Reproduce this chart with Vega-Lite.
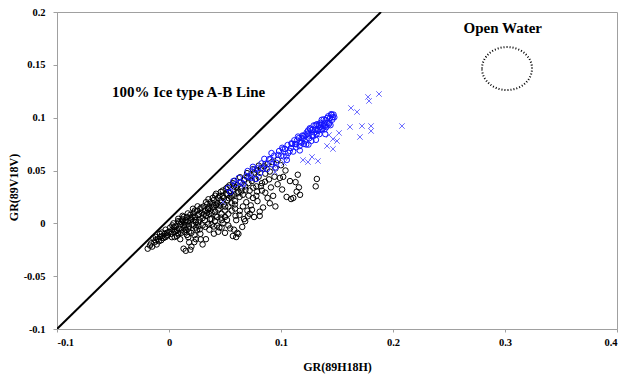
{
  "$schema": "https://vega.github.io/schema/vega-lite/v6.json",
  "width": 560,
  "height": 317,
  "autosize": {"type": "none"},
  "padding": {"left": 57, "top": 12, "right": 3, "bottom": 45},
  "background": "white",
  "config": {
    "view": {"stroke": "#a0a0a0", "strokeWidth": 1},
    "axis": {
      "grid": false,
      "domainColor": "#a0a0a0",
      "tickColor": "#a0a0a0",
      "labelFont": "Liberation Serif",
      "labelFontWeight": "bold",
      "labelFontSize": 10.5,
      "labelColor": "#000000",
      "titleFont": "Liberation Serif",
      "titleFontWeight": "bold",
      "titleFontSize": 12,
      "titleColor": "#000000"
    }
  },
  "datasets": {
    "line": [{"x": -0.1, "y": -0.1}, {"x": 0.1893, "y": 0.2}],
    "ann": [
      {"x": 0.0175, "y": 0.1245, "label": "100% Ice type A-B Line"},
      {"x": 0.298, "y": 0.1845, "label": "Open Water"}
    ],
    "ell": [{"x": 0.3018, "y": 0.1465}],
    "pts": [
      {"x": -0.019, "y": -0.024, "t": "a"}, {"x": -0.017, "y": -0.021, "t": "a"}, {"x": -0.016, "y": -0.019, "t": "a"}, {"x": -0.015, "y": -0.022, "t": "a"}, {"x": -0.013, "y": -0.018, "t": "a"}, {"x": -0.012, "y": -0.016, "t": "a"}, {"x": -0.011, "y": -0.020, "t": "a"}, {"x": -0.010, "y": -0.015, "t": "a"}, {"x": -0.009, "y": -0.017, "t": "a"}, {"x": -0.008, "y": -0.013, "t": "a"}, {"x": -0.007, "y": -0.016, "t": "a"}, {"x": -0.006, "y": -0.012, "t": "a"}, {"x": -0.005, "y": -0.014, "t": "a"}, {"x": -0.004, "y": -0.010, "t": "a"}, {"x": -0.003, "y": -0.013, "t": "a"}, {"x": -0.002, "y": -0.009, "t": "a"}, {"x": -0.001, "y": -0.011, "t": "a"}, {"x": 0.000, "y": -0.008, "t": "a"}, {"x": -0.014, "y": -0.014, "t": "a"}, {"x": -0.008, "y": -0.010, "t": "a"}, {"x": -0.003, "y": -0.006, "t": "a"},
      {"x": 0.001, "y": -0.004, "t": "a"}, {"x": 0.002, "y": -0.010, "t": "a"}, {"x": 0.003, "y": -0.006, "t": "a"}, {"x": 0.004, "y": 0.000, "t": "a"}, {"x": 0.005, "y": -0.008, "t": "a"}, {"x": 0.006, "y": -0.003, "t": "a"}, {"x": 0.007, "y": -0.012, "t": "a"}, {"x": 0.008, "y": 0.002, "t": "a"}, {"x": 0.009, "y": -0.005, "t": "a"}, {"x": 0.010, "y": -0.001, "t": "a"}, {"x": 0.011, "y": -0.009, "t": "a"}, {"x": 0.012, "y": 0.004, "t": "a"}, {"x": 0.013, "y": -0.002, "t": "a"}, {"x": 0.014, "y": 0.001, "t": "a"}, {"x": 0.015, "y": -0.006, "t": "a"}, {"x": 0.016, "y": 0.006, "t": "a"}, {"x": 0.017, "y": 0.002, "t": "a"}, {"x": 0.018, "y": -0.003, "t": "a"}, {"x": 0.019, "y": 0.008, "t": "a"}, {"x": 0.020, "y": 0.004, "t": "a"}, {"x": 0.021, "y": -0.001, "t": "a"}, {"x": 0.022, "y": 0.010, "t": "a"}, {"x": 0.023, "y": 0.006, "t": "a"}, {"x": 0.024, "y": 0.001, "t": "a"}, {"x": 0.025, "y": 0.012, "t": "a"}, {"x": 0.026, "y": 0.008, "t": "a"}, {"x": 0.027, "y": 0.003, "t": "a"}, {"x": 0.028, "y": 0.014, "t": "a"}, {"x": 0.029, "y": 0.010, "t": "a"}, {"x": 0.030, "y": 0.005, "t": "a"},
      {"x": 0.003, "y": -0.002, "t": "a"}, {"x": 0.006, "y": -0.007, "t": "a"}, {"x": 0.009, "y": 0.001, "t": "a"}, {"x": 0.012, "y": -0.006, "t": "a"}, {"x": 0.015, "y": 0.003, "t": "a"}, {"x": 0.018, "y": -0.008, "t": "a"}, {"x": 0.021, "y": 0.006, "t": "a"}, {"x": 0.024, "y": -0.004, "t": "a"}, {"x": 0.027, "y": 0.009, "t": "a"}, {"x": 0.030, "y": -0.002, "t": "a"}, {"x": 0.005, "y": -0.013, "t": "a"}, {"x": 0.010, "y": -0.015, "t": "a"}, {"x": 0.016, "y": -0.011, "t": "a"}, {"x": 0.020, "y": -0.009, "t": "a"}, {"x": 0.025, "y": -0.006, "t": "a"}, {"x": 0.028, "y": -0.010, "t": "a"}, {"x": 0.013, "y": 0.006, "t": "a"}, {"x": 0.019, "y": 0.003, "t": "a"}, {"x": 0.023, "y": 0.012, "t": "a"}, {"x": 0.017, "y": -0.005, "t": "a"}, {"x": 0.008, "y": -0.009, "t": "a"}, {"x": 0.011, "y": 0.001, "t": "a"}, {"x": 0.014, "y": -0.004, "t": "a"}, {"x": 0.022, "y": -0.002, "t": "a"}, {"x": 0.026, "y": 0.001, "t": "a"}, {"x": 0.029, "y": 0.015, "t": "a"},
      {"x": 0.018, "y": -0.018, "t": "a"}, {"x": 0.020, "y": -0.022, "t": "a"}, {"x": 0.019, "y": -0.025, "t": "a"}, {"x": 0.024, "y": -0.015, "t": "a"}, {"x": 0.033, "y": -0.015, "t": "a"}, {"x": 0.030, "y": -0.020, "t": "a"},
      {"x": 0.031, "y": 0.016, "t": "a"}, {"x": 0.032, "y": 0.012, "t": "a"}, {"x": 0.033, "y": 0.007, "t": "a"}, {"x": 0.034, "y": 0.018, "t": "a"}, {"x": 0.035, "y": 0.013, "t": "a"}, {"x": 0.036, "y": 0.009, "t": "a"}, {"x": 0.037, "y": 0.020, "t": "a"}, {"x": 0.038, "y": 0.004, "t": "a"}, {"x": 0.039, "y": 0.015, "t": "a"}, {"x": 0.040, "y": 0.022, "t": "a"}, {"x": 0.041, "y": 0.011, "t": "a"}, {"x": 0.042, "y": 0.017, "t": "a"}, {"x": 0.043, "y": 0.006, "t": "a"}, {"x": 0.044, "y": 0.024, "t": "a"}, {"x": 0.045, "y": 0.014, "t": "a"}, {"x": 0.046, "y": 0.020, "t": "a"}, {"x": 0.047, "y": 0.009, "t": "a"}, {"x": 0.048, "y": 0.026, "t": "a"}, {"x": 0.049, "y": 0.018, "t": "a"}, {"x": 0.050, "y": 0.012, "t": "a"}, {"x": 0.051, "y": 0.028, "t": "a"}, {"x": 0.052, "y": 0.022, "t": "a"}, {"x": 0.053, "y": 0.016, "t": "a"}, {"x": 0.054, "y": 0.030, "t": "a"}, {"x": 0.055, "y": 0.025, "t": "a"}, {"x": 0.056, "y": 0.019, "t": "a"}, {"x": 0.057, "y": 0.032, "t": "a"}, {"x": 0.058, "y": 0.027, "t": "a"}, {"x": 0.059, "y": 0.021, "t": "a"}, {"x": 0.060, "y": 0.034, "t": "a"},
      {"x": 0.032, "y": 0.003, "t": "a"}, {"x": 0.035, "y": -0.001, "t": "a"}, {"x": 0.038, "y": 0.010, "t": "a"}, {"x": 0.041, "y": 0.002, "t": "a"}, {"x": 0.044, "y": 0.013, "t": "a"}, {"x": 0.047, "y": 0.003, "t": "a"}, {"x": 0.050, "y": 0.006, "t": "a"}, {"x": 0.053, "y": 0.009, "t": "a"}, {"x": 0.056, "y": 0.012, "t": "a"}, {"x": 0.059, "y": 0.014, "t": "a"}, {"x": 0.033, "y": 0.020, "t": "a"}, {"x": 0.036, "y": 0.015, "t": "a"}, {"x": 0.039, "y": 0.024, "t": "a"}, {"x": 0.042, "y": 0.028, "t": "a"}, {"x": 0.045, "y": 0.026, "t": "a"}, {"x": 0.048, "y": 0.031, "t": "a"}, {"x": 0.051, "y": 0.033, "t": "a"}, {"x": 0.054, "y": 0.036, "t": "a"}, {"x": 0.057, "y": 0.038, "t": "a"}, {"x": 0.034, "y": 0.010, "t": "a"}, {"x": 0.040, "y": 0.017, "t": "a"}, {"x": 0.046, "y": 0.022, "t": "a"}, {"x": 0.052, "y": 0.027, "t": "a"}, {"x": 0.058, "y": 0.035, "t": "a"}, {"x": 0.037, "y": 0.012, "t": "a"}, {"x": 0.043, "y": 0.019, "t": "a"}, {"x": 0.049, "y": 0.024, "t": "a"}, {"x": 0.055, "y": 0.029, "t": "a"},
      {"x": 0.036, "y": -0.006, "t": "a"}, {"x": 0.040, "y": -0.003, "t": "a"}, {"x": 0.045, "y": -0.004, "t": "a"}, {"x": 0.048, "y": 0.000, "t": "a"}, {"x": 0.053, "y": -0.002, "t": "a"}, {"x": 0.060, "y": 0.003, "t": "a"}, {"x": 0.058, "y": -0.006, "t": "a"}, {"x": 0.062, "y": -0.010, "t": "a"}, {"x": 0.057, "y": -0.012, "t": "a"}, {"x": 0.050, "y": -0.009, "t": "a"}, {"x": 0.067, "y": 0.004, "t": "a"}, {"x": 0.063, "y": 0.008, "t": "a"}, {"x": 0.044, "y": -0.008, "t": "a"},
      {"x": 0.061, "y": 0.036, "t": "a"}, {"x": 0.062, "y": 0.030, "t": "a"}, {"x": 0.063, "y": 0.025, "t": "a"}, {"x": 0.064, "y": 0.039, "t": "a"}, {"x": 0.065, "y": 0.033, "t": "a"}, {"x": 0.066, "y": 0.027, "t": "a"}, {"x": 0.067, "y": 0.041, "t": "a"}, {"x": 0.068, "y": 0.035, "t": "a"}, {"x": 0.069, "y": 0.020, "t": "a"}, {"x": 0.070, "y": 0.044, "t": "a"}, {"x": 0.071, "y": 0.038, "t": "a"}, {"x": 0.072, "y": 0.031, "t": "a"}, {"x": 0.073, "y": 0.046, "t": "a"}, {"x": 0.074, "y": 0.040, "t": "a"}, {"x": 0.075, "y": 0.024, "t": "a"}, {"x": 0.076, "y": 0.048, "t": "a"}, {"x": 0.077, "y": 0.042, "t": "a"}, {"x": 0.078, "y": 0.035, "t": "a"}, {"x": 0.079, "y": 0.050, "t": "a"}, {"x": 0.080, "y": 0.044, "t": "a"}, {"x": 0.082, "y": 0.052, "t": "a"}, {"x": 0.083, "y": 0.038, "t": "a"}, {"x": 0.085, "y": 0.054, "t": "a"}, {"x": 0.086, "y": 0.047, "t": "a"}, {"x": 0.088, "y": 0.056, "t": "a"}, {"x": 0.090, "y": 0.049, "t": "a"}, {"x": 0.092, "y": 0.058, "t": "a"}, {"x": 0.095, "y": 0.052, "t": "a"}, {"x": 0.097, "y": 0.060, "t": "a"}, {"x": 0.100, "y": 0.055, "t": "a"},
      {"x": 0.060, "y": -0.013, "t": "a"}, {"x": 0.061, "y": -0.009, "t": "a"}, {"x": 0.047, "y": -0.004, "t": "a"}, {"x": 0.081, "y": 0.007, "t": "a"}, {"x": 0.081, "y": 0.011, "t": "a"}, {"x": 0.095, "y": 0.016, "t": "a"}, {"x": 0.090, "y": 0.019, "t": "a"}, {"x": 0.088, "y": 0.024, "t": "a"}, {"x": 0.093, "y": 0.026, "t": "a"}, {"x": 0.101, "y": 0.032, "t": "a"}, {"x": 0.105, "y": 0.025, "t": "a"}, {"x": 0.109, "y": 0.023, "t": "a"}, {"x": 0.111, "y": 0.024, "t": "a"}, {"x": 0.114, "y": 0.030, "t": "a"}, {"x": 0.116, "y": 0.034, "t": "a"}, {"x": 0.117, "y": 0.027, "t": "a"}, {"x": 0.131, "y": 0.035, "t": "a"}, {"x": 0.132, "y": 0.042, "t": "a"}, {"x": 0.115, "y": 0.046, "t": "a"}, {"x": 0.104, "y": 0.050, "t": "a"}, {"x": 0.113, "y": 0.039, "t": "a"}, {"x": 0.013, "y": -0.024, "t": "a"}, {"x": 0.015, "y": -0.026, "t": "a"}, {"x": 0.070, "y": 0.012, "t": "a"}, {"x": 0.073, "y": 0.017, "t": "a"}, {"x": 0.076, "y": 0.006, "t": "a"}, {"x": 0.079, "y": 0.021, "t": "a"}, {"x": 0.084, "y": 0.015, "t": "a"}, {"x": 0.086, "y": 0.029, "t": "a"}, {"x": 0.097, "y": 0.037, "t": "a"}, {"x": 0.102, "y": 0.044, "t": "a"}, {"x": 0.066, "y": 0.016, "t": "a"}, {"x": 0.072, "y": 0.009, "t": "a"}, {"x": 0.068, "y": 0.002, "t": "a"}, {"x": 0.078, "y": 0.026, "t": "a"}, {"x": 0.083, "y": 0.031, "t": "a"}, {"x": 0.091, "y": 0.034, "t": "a"}, {"x": 0.108, "y": 0.040, "t": "a"}, {"x": 0.099, "y": 0.043, "t": "a"},
      {"x": 0.0043, "y": -0.0035, "t": "a"}, {"x": 0.0117, "y": 0.0028, "t": "a"}, {"x": 0.0071, "y": -0.0062, "t": "a"}, {"x": 0.0156, "y": -0.0018, "t": "a"}, {"x": 0.0192, "y": 0.0052, "t": "a"}, {"x": 0.0238, "y": 0.0031, "t": "a"}, {"x": 0.0264, "y": -0.0027, "t": "a"}, {"x": 0.0311, "y": 0.0083, "t": "a"}, {"x": 0.0347, "y": 0.0142, "t": "a"}, {"x": 0.0366, "y": 0.0041, "t": "a"}, {"x": 0.0395, "y": 0.0188, "t": "a"}, {"x": 0.0418, "y": 0.0074, "t": "a"}, {"x": 0.0452, "y": 0.0167, "t": "a"}, {"x": 0.0476, "y": 0.0205, "t": "a"}, {"x": 0.0502, "y": 0.0158, "t": "a"}, {"x": 0.0533, "y": 0.0238, "t": "a"}, {"x": 0.0561, "y": 0.0262, "t": "a"}, {"x": 0.0588, "y": 0.0178, "t": "a"}, {"x": 0.0612, "y": 0.0284, "t": "a"}, {"x": 0.0645, "y": 0.0302, "t": "a"}, {"x": 0.0683, "y": 0.0318, "t": "a"}, {"x": 0.0711, "y": 0.0262, "t": "a"}, {"x": 0.0752, "y": 0.0337, "t": "a"}, {"x": 0.0787, "y": 0.0301, "t": "a"}, {"x": 0.0821, "y": 0.0352, "t": "a"}, {"x": 0.0857, "y": 0.0394, "t": "a"}, {"x": 0.0893, "y": 0.0416, "t": "a"}, {"x": 0.0942, "y": 0.0441, "t": "a"}, {"x": -0.0118, "y": -0.0128, "t": "a"}, {"x": -0.0063, "y": -0.0087, "t": "a"}, {"x": -0.0021, "y": -0.0118, "t": "a"}, {"x": 0.0026, "y": -0.0131, "t": "a"}, {"x": 0.0083, "y": -0.0105, "t": "a"}, {"x": 0.0139, "y": -0.0082, "t": "a"}, {"x": 0.0172, "y": -0.0131, "t": "a"}, {"x": 0.0227, "y": -0.0112, "t": "a"}, {"x": 0.0274, "y": -0.0058, "t": "a"}, {"x": 0.0324, "y": -0.0034, "t": "a"}, {"x": 0.0381, "y": -0.0012, "t": "a"}, {"x": 0.0429, "y": -0.0021, "t": "a"}, {"x": 0.0467, "y": 0.0054, "t": "a"}, {"x": 0.0518, "y": 0.0032, "t": "a"}, {"x": 0.0546, "y": -0.0048, "t": "a"}, {"x": 0.0594, "y": 0.0071, "t": "a"}, {"x": 0.0632, "y": 0.0118, "t": "a"}, {"x": 0.0654, "y": -0.0034, "t": "a"}, {"x": 0.0703, "y": 0.0067, "t": "a"}, {"x": 0.0741, "y": 0.0128, "t": "a"}, {"x": 0.0226, "y": -0.0178, "t": "a"}, {"x": 0.0283, "y": -0.0152, "t": "a"}, {"x": 0.0401, "y": -0.0098, "t": "a"}, {"x": 0.0255, "y": 0.0161, "t": "a"}, {"x": 0.0214, "y": 0.0138, "t": "a"}, {"x": 0.0168, "y": 0.0094, "t": "a"}, {"x": 0.0121, "y": 0.0071, "t": "a"}, {"x": 0.0082, "y": 0.0043, "t": "a"}, {"x": 0.0352, "y": 0.0228, "t": "a"}, {"x": 0.0412, "y": 0.0262, "t": "a"}, {"x": 0.0463, "y": 0.0298, "t": "a"}, {"x": 0.0524, "y": 0.0342, "t": "a"}, {"x": 0.0583, "y": 0.0402, "t": "a"}, {"x": 0.0635, "y": 0.0436, "t": "a"}, {"x": 0.0697, "y": 0.0475, "t": "a"}, {"x": 0.0748, "y": 0.0512, "t": "a"}, {"x": 0.0801, "y": 0.0546, "t": "a"},
      {"x": 0.1412, "y": 0.0996, "t": "b"}, {"x": 0.1287, "y": 0.0822, "t": "b"}, {"x": 0.1356, "y": 0.0934, "t": "b"}, {"x": 0.1174, "y": 0.0768, "t": "b"}, {"x": 0.1448, "y": 0.1033, "t": "b"}, {"x": 0.1225, "y": 0.0746, "t": "b"}, {"x": 0.1098, "y": 0.0751, "t": "b"}, {"x": 0.1331, "y": 0.0875, "t": "b"}, {"x": 0.1476, "y": 0.1004, "t": "b"}, {"x": 0.1049, "y": 0.0634, "t": "b"}, {"x": 0.1263, "y": 0.0894, "t": "b"}, {"x": 0.1389, "y": 0.0889, "t": "b"}, {"x": 0.1152, "y": 0.0821, "t": "b"}, {"x": 0.0974, "y": 0.0648, "t": "b"}, {"x": 0.1305, "y": 0.0886, "t": "b"}, {"x": 0.1427, "y": 0.0937, "t": "b"}, {"x": 0.1201, "y": 0.0828, "t": "b"}, {"x": 0.1078, "y": 0.0686, "t": "b"}, {"x": 0.1364, "y": 0.0980, "t": "b"}, {"x": 0.1247, "y": 0.0832, "t": "b"}, {"x": 0.0921, "y": 0.0558, "t": "b"}, {"x": 0.1343, "y": 0.0844, "t": "b"}, {"x": 0.1458, "y": 0.0981, "t": "b"}, {"x": 0.1119, "y": 0.0786, "t": "b"}, {"x": 0.1283, "y": 0.0889, "t": "b"}, {"x": 0.1017, "y": 0.0700, "t": "b"}, {"x": 0.1399, "y": 0.0976, "t": "b"}, {"x": 0.1166, "y": 0.0732, "t": "b"}, {"x": 0.0893, "y": 0.0607, "t": "b"}, {"x": 0.1321, "y": 0.0938, "t": "b"}, {"x": 0.1237, "y": 0.0845, "t": "b"}, {"x": 0.1438, "y": 0.0996, "t": "b"}, {"x": 0.1059, "y": 0.0741, "t": "b"}, {"x": 0.1184, "y": 0.0805, "t": "b"}, {"x": 0.1376, "y": 0.0919, "t": "b"}, {"x": 0.0842, "y": 0.0519, "t": "b"}, {"x": 0.1297, "y": 0.0860, "t": "b"}, {"x": 0.1469, "y": 0.1029, "t": "b"}, {"x": 0.1134, "y": 0.0748, "t": "b"}, {"x": 0.1213, "y": 0.0777, "t": "b"}, {"x": 0.0956, "y": 0.0574, "t": "b"}, {"x": 0.1352, "y": 0.0951, "t": "b"}, {"x": 0.1271, "y": 0.0780, "t": "b"}, {"x": 0.1405, "y": 0.0911, "t": "b"}, {"x": 0.1088, "y": 0.0713, "t": "b"}, {"x": 0.0791, "y": 0.0520, "t": "b"}, {"x": 0.1257, "y": 0.0900, "t": "b"}, {"x": 0.1318, "y": 0.0846, "t": "b"}, {"x": 0.1192, "y": 0.0831, "t": "b"}, {"x": 0.1421, "y": 0.1013, "t": "b"}, {"x": 0.1002, "y": 0.0639, "t": "b"}, {"x": 0.0737, "y": 0.0430, "t": "b"}, {"x": 0.1143, "y": 0.0784, "t": "b"}, {"x": 0.1385, "y": 0.0946, "t": "b"}, {"x": 0.1229, "y": 0.0859, "t": "b"}, {"x": 0.1036, "y": 0.0704, "t": "b"}, {"x": 0.1338, "y": 0.0931, "t": "b"}, {"x": 0.0874, "y": 0.0513, "t": "b"}, {"x": 0.1109, "y": 0.0679, "t": "b"}, {"x": 0.1463, "y": 0.1004, "t": "b"}, {"x": 0.1279, "y": 0.0836, "t": "b"}, {"x": 0.0689, "y": 0.0444, "t": "b"}, {"x": 0.1160, "y": 0.0807, "t": "b"}, {"x": 0.1395, "y": 0.0923, "t": "b"}, {"x": 0.0983, "y": 0.0684, "t": "b"}, {"x": 0.1251, "y": 0.0805, "t": "b"}, {"x": 0.1309, "y": 0.0929, "t": "b"}, {"x": 0.0813, "y": 0.0477, "t": "b"}, {"x": 0.1205, "y": 0.0751, "t": "b"}, {"x": 0.1442, "y": 0.0929, "t": "b"}, {"x": 0.1065, "y": 0.0666, "t": "b"}, {"x": 0.1369, "y": 0.0894, "t": "b"}, {"x": 0.0641, "y": 0.0388, "t": "b"}, {"x": 0.1127, "y": 0.0752, "t": "b"}, {"x": 0.1292, "y": 0.0926, "t": "b"}, {"x": 0.0905, "y": 0.0606, "t": "b"}, {"x": 0.1348, "y": 0.0908, "t": "b"}, {"x": 0.1182, "y": 0.0764, "t": "b"}, {"x": 0.0765, "y": 0.0511, "t": "b"}, {"x": 0.1415, "y": 0.0948, "t": "b"}, {"x": 0.1023, "y": 0.0634, "t": "b"}, {"x": 0.1241, "y": 0.0878, "t": "b"}, {"x": 0.0592, "y": 0.0371, "t": "b"}, {"x": 0.1326, "y": 0.0882, "t": "b"}, {"x": 0.1093, "y": 0.0757, "t": "b"}, {"x": 0.0939, "y": 0.0641, "t": "b"}, {"x": 0.1382, "y": 0.0984, "t": "b"}, {"x": 0.1218, "y": 0.0831, "t": "b"}, {"x": 0.0718, "y": 0.0436, "t": "b"}, {"x": 0.1453, "y": 0.1027, "t": "b"}, {"x": 0.1137, "y": 0.0720, "t": "b"}, {"x": 0.0861, "y": 0.0563, "t": "b"}, {"x": 0.1273, "y": 0.0882, "t": "b"}, {"x": 0.0547, "y": 0.0297, "t": "b"}, {"x": 0.1359, "y": 0.0886, "t": "b"}, {"x": 0.1011, "y": 0.0715, "t": "b"}, {"x": 0.0663, "y": 0.0374, "t": "b"}, {"x": 0.1196, "y": 0.0804, "t": "b"}, {"x": 0.1433, "y": 0.0952, "t": "b"}, {"x": 0.0826, "y": 0.0567, "t": "b"},
      {"x": 0.1312, "y": 0.0790, "t": "b"}, {"x": 0.1395, "y": 0.0845, "t": "b"}, {"x": 0.1168, "y": 0.0690, "t": "b"}, {"x": 0.1245, "y": 0.0745, "t": "b"}, {"x": 0.1052, "y": 0.0600, "t": "b"}, {"x": 0.0952, "y": 0.0530, "t": "b"}, {"x": 0.0778, "y": 0.0420, "t": "b"}, {"x": 0.0528, "y": 0.0335, "t": "b"}, {"x": 0.0575, "y": 0.0400, "t": "b"}, {"x": 0.0623, "y": 0.0430, "t": "b"}, {"x": 0.0702, "y": 0.0495, "t": "b"}, {"x": 0.0749, "y": 0.0535, "t": "b"}, {"x": 0.0851, "y": 0.0610, "t": "b"}, {"x": 0.0915, "y": 0.0665, "t": "b"},
      {"x": 0.1875, "y": 0.1224, "t": "c"}, {"x": 0.1777, "y": 0.1196, "t": "c"}, {"x": 0.1786, "y": 0.1158, "t": "c"}, {"x": 0.1625, "y": 0.1091, "t": "c"}, {"x": 0.1679, "y": 0.1054, "t": "c"}, {"x": 0.1616, "y": 0.0912, "t": "c"}, {"x": 0.1723, "y": 0.0921, "t": "c"}, {"x": 0.1804, "y": 0.0921, "t": "c"}, {"x": 0.1804, "y": 0.0874, "t": "c"}, {"x": 0.2080, "y": 0.0921, "t": "c"}, {"x": 0.1705, "y": 0.0817, "t": "c"}, {"x": 0.1518, "y": 0.0855, "t": "c"}, {"x": 0.1429, "y": 0.0836, "t": "c"}, {"x": 0.1464, "y": 0.0798, "t": "c"}, {"x": 0.1500, "y": 0.0779, "t": "c"}, {"x": 0.1411, "y": 0.0732, "t": "c"}, {"x": 0.1464, "y": 0.0704, "t": "c"}, {"x": 0.1277, "y": 0.0628, "t": "c"}, {"x": 0.1196, "y": 0.0599, "t": "c"}, {"x": 0.1241, "y": 0.0580, "t": "c"}, {"x": 0.1330, "y": 0.0590, "t": "c"}, {"x": 0.0902, "y": 0.0580, "t": "c"}, {"x": 0.0973, "y": 0.0552, "t": "c"}, {"x": 0.0946, "y": 0.0486, "t": "c"}, {"x": 0.0741, "y": 0.0457, "t": "c"}, {"x": 0.0670, "y": 0.0353, "t": "c"}, {"x": 0.0563, "y": 0.0316, "t": "c"}, {"x": 0.0482, "y": 0.0202, "t": "c"}, {"x": 0.1027, "y": 0.0571, "t": "c"}
    ]
  },
  "layer": [
    {
      "data": {"name": "pts"},
      "mark": {"type": "point", "filled": false, "strokeWidth": 1, "size": 30, "opacity": 1},
      "encoding": {
        "x": {
          "field": "x", "type": "quantitative",
          "scale": {"domain": [-0.1, 0.4], "nice": false, "zero": false},
          "axis": {"title": "GR(89H18H)", "values": [-0.1, 0, 0.1, 0.2, 0.3, 0.4], "labelExpr": "datum.value", "tickSize": 3, "labelPadding": 5, "titleY": 37, "titleBaseline": "middle"}
        },
        "y": {
          "field": "y", "type": "quantitative",
          "scale": {"domain": [-0.1, 0.2], "nice": false, "zero": false},
          "axis": {"title": "GR(89V18V)", "values": [-0.1, -0.05, 0, 0.05, 0.1, 0.15, 0.2], "labelExpr": "datum.value", "tickSize": 4, "labelPadding": 8, "titleX": -44, "titleY": 175, "titleBaseline": "middle"}
        },
        "color": {"field": "t", "type": "nominal", "legend": null, "scale": {"domain": ["a", "b", "c"], "range": ["#000000", "#1414ff", "#6a6aff"]}},
        "shape": {"field": "t", "type": "nominal", "legend": null, "scale": {"domain": ["a", "b", "c"], "range": ["circle", "circle", "M-1,-1L1,1M-1,1L1,-1"]}}
      }
    },
    {
      "data": {"name": "line"},
      "mark": {"type": "line", "color": "#000000", "strokeWidth": 2, "clip": true},
      "encoding": {
        "x": {"field": "x", "type": "quantitative"},
        "y": {"field": "y", "type": "quantitative"}
      }
    },
    {
      "data": {"name": "ell"},
      "mark": {"type": "point", "filled": false, "shape": "M-1,0A1,0.86,0,1,1,1,0A1,0.86,0,1,1,-1,0Z", "size": 2500, "stroke": "#000000", "strokeWidth": 2, "strokeDash": [1, 2], "opacity": 1},
      "encoding": {
        "x": {"field": "x", "type": "quantitative"},
        "y": {"field": "y", "type": "quantitative"}
      }
    },
    {
      "data": {"name": "ann"},
      "mark": {"type": "text", "font": "Liberation Serif", "fontWeight": "bold", "fontSize": 15, "color": "#000000", "align": "center", "baseline": "middle"},
      "encoding": {
        "x": {"field": "x", "type": "quantitative"},
        "y": {"field": "y", "type": "quantitative"},
        "text": {"field": "label"}
      }
    }
  ]
}
